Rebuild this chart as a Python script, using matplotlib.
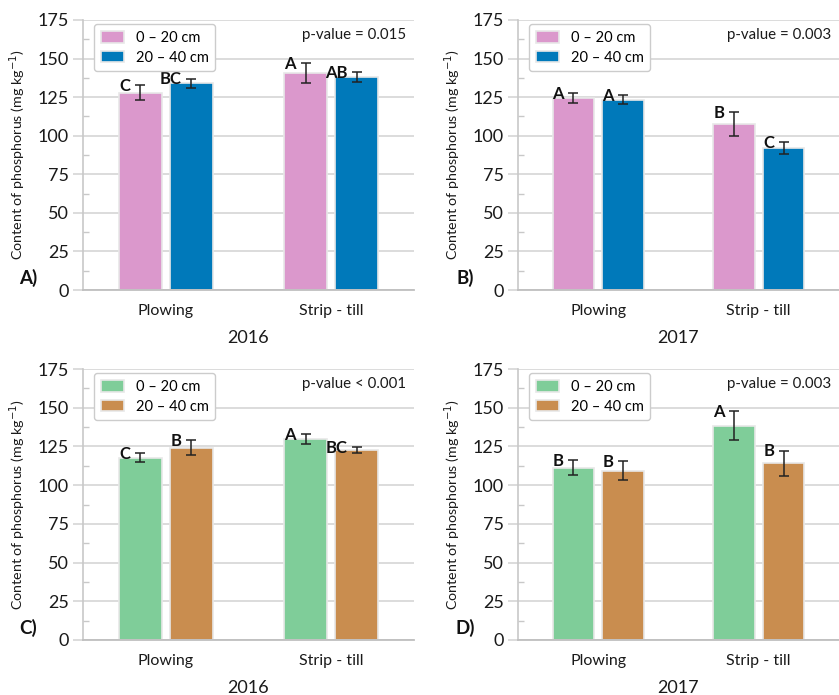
import matplotlib
matplotlib.use("Agg")
import matplotlib.pyplot as plt
import numpy as np

plt.rcParams['font.family'] = ['Lato', 'DejaVu Sans']

# Data: phosphorus content (mg kg-1) by tillage system and soil depth
systems = ["Plowing", "Strip - till"]
depths = ["0 – 20 cm", "20 – 40 cm"]

a_mean = {"0 – 20 cm": [128.0, 140.6], "20 – 40 cm": [134.0, 137.8]}
a_err = {"0 – 20 cm": [4.9, 6.5], "20 – 40 cm": [3.0, 3.2]}
a_letters = {"0 – 20 cm": ["C", "A"], "20 – 40 cm": ["BC", "AB"]}

b_mean = {"0 – 20 cm": [124.2, 107.6], "20 – 40 cm": [123.3, 92.2]}
b_err = {"0 – 20 cm": [3.3, 7.8], "20 – 40 cm": [3.0, 3.8]}
b_letters = {"0 – 20 cm": ["A", "B"], "20 – 40 cm": ["A", "C"]}

c_mean = {"0 – 20 cm": [117.8, 129.9], "20 – 40 cm": [124.3, 122.8]}
c_err = {"0 – 20 cm": [2.9, 3.3], "20 – 40 cm": [4.7, 2.0]}
c_letters = {"0 – 20 cm": ["C", "A"], "20 – 40 cm": ["B", "BC"]}

d_mean = {"0 – 20 cm": [111.2, 138.5], "20 – 40 cm": [109.4, 114.0]}
d_err = {"0 – 20 cm": [4.8, 9.3], "20 – 40 cm": [6.2, 8.3]}
d_letters = {"0 – 20 cm": ["B", "A"], "20 – 40 cm": ["B", "B"]}

years = ["2016", "2017", "2016", "2017"]
p_values = ["p-value = 0.015", "p-value = 0.003", "p-value < 0.001", "p-value = 0.003"]
panel_tags = ["A)", "B)", "C)", "D)"]

pink_blue = ["#DB98CC", "#0079BA"]
green_brown = ["#7FCD99", "#C98D4F"]

W, H = 839, 695
fig = plt.figure(figsize=(W / 100, H / 100), dpi=100)


def px_axes(left, top, right, bottom):
    return fig.add_axes([left / W, 1 - bottom / H, (right - left) / W, (bottom - top) / H])


boxes = [(83, 20, 414, 290), (518, 20, 839, 290), (83, 369, 414, 640), (518, 369, 839, 640)]
panels = [(a_mean, a_err, a_letters, pink_blue), (b_mean, b_err, b_letters, pink_blue),
          (c_mean, c_err, c_letters, green_brown), (d_mean, d_err, d_letters, green_brown)]

grid_c = "#D9D9D9"
text_c = "#1a1a1a"
bw = 0.26
offsets = [-0.155, 0.155]
x = np.arange(len(systems))

for i, (box, (means, errs, letters, cols)) in enumerate(zip(boxes, panels)):
    ax = px_axes(*box)
    ax.set_xlim(-0.5, 1.5)
    ax.set_ylim(0, 175)
    ax.set_yticks(np.arange(0, 176, 25))
    ax.set_yticks(np.arange(12.5, 175, 25), minor=True)
    ax.yaxis.grid(True, which='major', color=grid_c, linewidth=1.3)
    ax.set_axisbelow(True)
    for s in ["top", "right"]:
        ax.spines[s].set_visible(False)
    ax.spines["left"].set_color("#C8C8C8")
    ax.spines["left"].set_linewidth(1.2)
    ax.spines["bottom"].set_color("#BFBFBF")
    ax.spines["bottom"].set_linewidth(1.3)
    ax.tick_params(axis='y', which='major', length=7, color=grid_c, width=1.3,
                   labelsize=13, labelcolor=text_c, pad=3)
    ax.tick_params(axis='y', which='minor', length=4, direction='in', color="#C8C8C8", width=1.0)
    ax.tick_params(axis='x', length=0, labelsize=11.5, pad=10, labelcolor=text_c)
    ax.set_xticks(x)
    ax.set_xticklabels(systems)

    for j, d in enumerate(depths):
        xpos = x + offsets[j]
        ax.bar(xpos, means[d], width=bw, color=cols[j], edgecolor="#E8E8E8",
               linewidth=1.2, label=d, zorder=2)
        ax.errorbar(xpos, means[d], yerr=errs[d], fmt='none', ecolor="#222222",
                    elinewidth=1.1, capsize=3.4, capthick=1.1, zorder=3)
        # significance letters sit just left of each error-bar cap
        for k in range(len(systems)):
            ax.text(xpos[k] - 0.058, means[d][k] + errs[d][k] - 0.5, letters[d][k],
                    ha='right', va='center', fontsize=12, fontweight='bold',
                    color="#111111", zorder=4)

    leg = ax.legend(loc='upper left', bbox_to_anchor=(0.025, 0.995), fontsize=10.5,
                    frameon=True, fancybox=True, framealpha=1, edgecolor="#CCCCCC",
                    handlelength=1.6, handleheight=0.85, borderpad=0.45,
                    labelspacing=0.4, handletextpad=0.8, borderaxespad=0.2)
    leg.get_frame().set_linewidth(1.0)

    ax.text(0.975, 0.945, p_values[i], transform=ax.transAxes, ha='right', va='center',
            fontsize=10.8, color=text_c)

    ax.set_ylabel("Content of phosphorus (mg kg$^{-1}$)", fontsize=10.3, color=text_c,
                  labelpad=7)
    ax.set_xlabel(years[i], fontsize=13, color=text_c, labelpad=9)
    ax.text(-0.165, 0.045, panel_tags[i], transform=ax.transAxes, ha='center', va='center',
            fontsize=13.5, fontweight='bold', color="#111111")

fig.savefig("out.png", dpi=100, facecolor="white")
